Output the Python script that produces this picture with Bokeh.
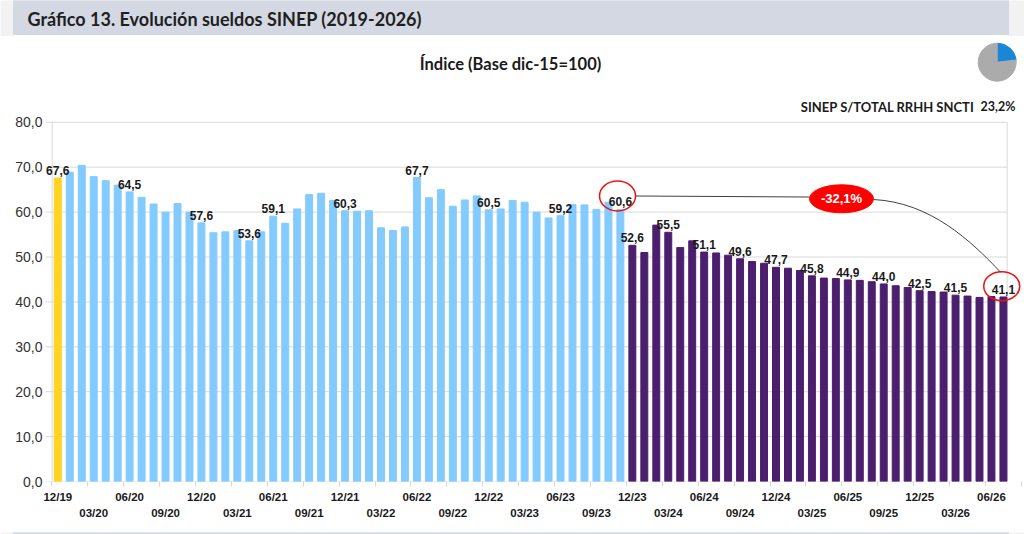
from bokeh.plotting import figure
from bokeh.layouts import column
from bokeh.models import FixedTicker, LinearAxis, Range1d, ColumnDataSource
from bokeh.core.properties import value
from bokeh.embed import file_html
from bokeh.resources import INLINE

# Indice de sueldos SINEP (base dic-15 = 100), mensual 12/19 .. 07/26
valores = [
    67.6, 68.9, 70.4, 67.9, 67.0, 66.0, 64.5, 63.3, 61.8, 60.0, 61.9, 60.0,
    57.6, 55.4, 55.6, 55.9, 53.6, 55.6, 59.1, 57.5, 60.7, 63.9, 64.2, 62.6,
    60.3, 60.2, 60.3, 56.5, 55.9, 56.7, 67.7, 63.2, 65.0, 61.3, 62.7, 63.6,
    60.5, 60.7, 62.6, 62.2, 60.0, 58.7, 59.2, 61.7, 61.6, 60.6, 62.2, 60.6,
    52.6, 51.0, 57.1, 55.5, 52.1, 53.6, 51.1, 50.9, 50.4, 49.6, 49.0, 48.6,
    47.7, 47.5, 47.0, 45.8, 45.3, 45.2, 44.9, 44.8, 44.5, 44.0, 43.6, 43.2,
    42.5, 42.3, 42.2, 41.5, 41.3, 41.0, 41.2, 41.1,
]
n_base = 1        # dic-19
n_hist = 47       # ene-20 .. nov-23
# el resto: dic-23 en adelante

etiquetas_eje = [
    "12/19", "03/20", "06/20", "09/20", "12/20", "03/21", "06/21", "09/21",
    "12/21", "03/22", "06/22", "09/22", "12/22", "03/23", "06/23", "09/23",
    "12/23", "03/24", "06/24", "09/24", "12/24", "03/25", "06/25", "09/25",
    "12/25", "03/26", "06/26",
]
idx_etiquetas = [0, 6, 12, 16, 18, 24, 30, 36, 42, 47, 48, 51, 54, 57, 60,
                 63, 66, 69, 72, 75, 79]
idx_ini, idx_fin = 47, 79
variacion = "-32,1%"
ticks_y = [0, 10, 20, 30, 40, 50, 60, 70, 80]
participacion = 23.2
titulo = "Gráfico 13. Evolución sueldos SINEP (2019-2026)"
subtitulo = "Índice (Base dic-15=100)"
texto_part = "SINEP S/TOTAL RRHH SNCTI"

AMARILLO = "#FFD320"
CELESTE = "#83CAFF"
VIOLETA = "#4B1E6E"
GRIS = "#D9D9D9"
BANDA = "#D3D8E3"
FONDO = "#F2F2F2"

# layout (pixels de la pagina)
W = 1024
ML = 45
PX_X = 11.97
PX_Y = 4.49
X0 = -(57.3 - ML) / PX_X
X1 = X0 + (W - ML) / PX_X
FRAME_H = 445
Y1 = FRAME_H / PX_Y
X_EJE = -0.47
X_BORDE = X0 + (1006.7 - ML) / PX_X


def dx(page_x):
    return X0 + (page_x - ML) / PX_X


def dy(page_y):
    return (481 - page_y) / PX_Y


def banda(alto):
    b = figure(width=W, height=alto, x_range=Range1d(0, W), y_range=Range1d(0, alto),
               output_backend="svg", toolbar_location=None,
               x_axis_location=None, y_axis_location=None,
               min_border=0, frame_align=False)
    b.grid.visible = False
    b.outline_line_color = None
    b.background_fill_color = FONDO
    b.border_fill_color = FONDO
    b.quad(left=[13], right=[1008], bottom=[0], top=[alto], color=BANDA)
    return b


# ---- cabecera ----
h = banda(36)
h.quad(left=[13], right=[1008], bottom=[0], top=[1], color="white")
h.text(x=[27], y=[18], text=[titulo], text_font=value("Lato"),
       text_font_style="bold", text_font_size="18px", text_color="#1F1F1F",
       text_baseline="middle", text_align="left")

# ---- grafico ----
p = figure(width=W, height=491, x_range=Range1d(X0, X1), y_range=Range1d(0, Y1),
           output_backend="svg", toolbar_location=None,
           min_border_left=ML, min_border_right=0, min_border_top=0,
           min_border_bottom=46, frame_align=False)
p.grid.visible = False
p.outline_line_color = None
p.background_fill_color = "white"

# lineas de la grilla y borde del area
p.segment(x0=[X0] * len(ticks_y), y0=ticks_y, x1=[X_BORDE] * len(ticks_y),
          y1=ticks_y, line_color=GRIS, line_width=1)
p.segment(x0=[X_EJE, X_BORDE], y0=[0, 0], x1=[X_EJE, X_BORDE],
          y1=[80, 80], line_color=GRIS, line_width=1)

colores = ([AMARILLO] * n_base + [CELESTE] * n_hist
           + [VIOLETA] * (len(valores) - n_base - n_hist))
src = ColumnDataSource(dict(x=list(range(len(valores))), top=valores, color=colores))
p.vbar(x="x", top="top", width=0.58, color="color", source=src)

lab = ColumnDataSource(dict(
    x=idx_etiquetas,
    y=[valores[i] for i in idx_etiquetas],
    t=[f"{valores[i]:.1f}".replace(".", ",") for i in idx_etiquetas],
))
p.text(x="x", y="y", text="t", source=lab, text_font=value("Liberation Sans"),
       text_font_style="bold", text_font_size="12px", text_color="#1A1A1A",
       text_align="center", text_baseline="bottom", y_offset=-3)

# ejes
p.yaxis.ticker = FixedTicker(ticks=ticks_y)
p.yaxis.major_label_overrides = {t: f"{t:.1f}".replace(".", ",") for t in ticks_y}
p.yaxis.axis_line_color = None
p.yaxis.major_tick_line_color = None
p.yaxis.minor_tick_line_color = None
p.yaxis.major_tick_out = 0
p.yaxis.major_tick_in = 0
p.yaxis.major_label_standoff = 3
p.yaxis.major_label_text_font = "Liberation Sans"
p.yaxis.major_label_text_font_size = "14px"
p.yaxis.major_label_text_color = "#333333"

pos = [3 * k for k in range(len(etiquetas_eje))]
limites = [3 * k - 0.5 for k in range(len(etiquetas_eje) + 1)]
p.xaxis.ticker = FixedTicker(ticks=pos[0::2], minor_ticks=limites)
p.xaxis.major_label_overrides = {pos[k]: etiquetas_eje[k] for k in range(0, len(pos), 2)}
p.xaxis.axis_line_color = None
p.xaxis.major_tick_out = 0
p.xaxis.major_tick_in = 0
p.xaxis.minor_tick_out = 5
p.xaxis.minor_tick_in = 0
p.xaxis.minor_tick_line_color = GRIS
p.xaxis.major_label_standoff = 4
p.xaxis.major_label_text_font = "Liberation Sans"
p.xaxis.major_label_text_font_style = "bold"
p.xaxis.major_label_text_font_size = "11.5px"
p.xaxis.major_label_text_color = "#1A1A1A"

eje2 = LinearAxis(ticker=FixedTicker(ticks=pos[1::2], minor_ticks=[]),
                  major_label_overrides={pos[k]: etiquetas_eje[k] for k in range(1, len(pos), 2)})
eje2.axis_line_color = None
eje2.major_tick_line_color = None
eje2.minor_tick_line_color = None
eje2.major_tick_out = 0
eje2.major_label_standoff = 1
eje2.major_label_text_font = "Liberation Sans"
eje2.major_label_text_font_style = "bold"
eje2.major_label_text_font_size = "11.5px"
eje2.major_label_text_color = "#1A1A1A"
p.add_layout(eje2, "below")

# anotaciones
e1x, e1y = idx_ini - 0.24, valores[idx_ini] + 3.0
e2x, e2y = idx_fin - 0.14, valores[idx_fin] + 2.4
p.ellipse(x=[e1x, e2x], y=[e1y, e2y], width=[36, 36], height=[30, 29],
          width_units="screen", height_units="screen",
          fill_color=None, line_color="#EE1111", line_width=1.5)

rx, ry = dx(841), dy(198.3)
p.segment(x0=[e1x + 18 / PX_X], y0=[dy(195.5)], x1=[rx - 32 / PX_X], y1=[dy(196.5)],
          line_color="#404040", line_width=1)
p.bezier(x0=[rx + 32 / PX_X], y0=[dy(199)], x1=[e2x - 0.1], y1=[e2y + 14 / PX_Y],
         cx0=[dx(930)], cy0=[dy(202)], cx1=[dx(970)], cy1=[dy(240)],
         line_color="#404040", line_width=1)
p.ellipse(x=[rx], y=[ry], width=[64], height=[28], width_units="screen",
          height_units="screen", fill_color="#FF0000", line_color="#FF0000")
p.text(x=[rx], y=[ry], text=[variacion], text_font=value("Liberation Sans"),
       text_font_style="bold", text_font_size="13px", text_color="white",
       text_align="center", text_baseline="middle")

# subtitulo y participacion
p.text(x=[dx(510)], y=[dy(63)], text=[subtitulo], text_font=value("Lato"),
       text_font_style="bold", text_font_size="16.5px", text_color="#1A1A1A",
       text_align="center", text_baseline="middle")
ang = participacion / 100 * 360
p.wedge(x=[dx(996.7)], y=[dy(61.7)], radius=19, radius_units="screen",
        start_angle=90 - ang, end_angle=90, start_angle_units="deg",
        end_angle_units="deg", color="#1A86D8")
p.wedge(x=[dx(996.7)], y=[dy(61.7)], radius=19, radius_units="screen",
        start_angle=90, end_angle=450 - ang, start_angle_units="deg",
        end_angle_units="deg", color="#ABABAB")
p.text(x=[dx(974)], y=[dy(106)], text=[texto_part], text_font=value("Lato"),
       text_font_style="bold", text_font_size="13px", text_color="#1A1A1A",
       text_align="right", text_baseline="middle")
p.text(x=[dx(1015)], y=[dy(106)], text=[f"{participacion:.1f}%".replace(".", ",")],
       text_font=value("Lato"), text_font_style="bold", text_font_size="12.5px",
       text_color="#1A1A1A", text_align="right", text_baseline="middle")

# ---- pie ----
f = banda(7)

layout = column(h, p, f, spacing=0)
open("out.html", "w").write(file_html(layout, INLINE))
